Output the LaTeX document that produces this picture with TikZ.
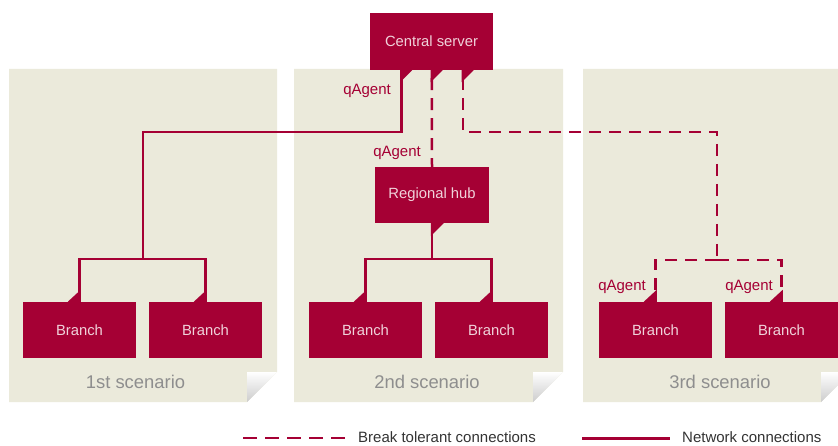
\documentclass[tikz,border=0pt]{standalone}
\usepackage{fontspec}
\setmainfont{Liberation Sans}
\usetikzlibrary{calc}
\definecolor{crim}{HTML}{A50034}
\definecolor{panelbg}{HTML}{EBEADB}
\definecolor{boxtxt}{HTML}{F0D2DA}
\definecolor{scentxt}{HTML}{8E8E8E}
\definecolor{lgdtxt}{HTML}{333333}
\begin{document}
\begin{tikzpicture}[x=1pt,y=-1pt,
  box/.style={fill=crim, draw=none, text=boxtxt, font=\fontsize{14.8}{16}\selectfont, inner sep=0pt, minimum width=113pt, minimum height=56pt},
  net/.style={draw=crim, line width=2.5pt},
  brk/.style={net, dash pattern=on 12pt off 8pt},
  agent/.style={text=crim, font=\fontsize{15}{17}\selectfont, inner sep=0pt, anchor=east},
  scen/.style={text=scentxt, font=\fontsize{18.4}{20}\selectfont, inner sep=0pt},
  lgd/.style={text=lgdtxt, font=\fontsize{15}{17}\selectfont, anchor=base west, inner sep=0pt}]
\useasboundingbox (0,0) rectangle (838,446);
\clip (0,0) rectangle (838,446);
% panels
\foreach \a/\b in {9/277,294/563,583/851}{
  \fill[panelbg] (\a,69) -- (\b,69) -- (\b,372) -- ({\b-30},402) -- (\a,402) -- cycle;
  \shade[shading angle=-45, top color=white, bottom color=black!20] ({\b-30},372) -- (\b,372) -- ({\b-30},402) -- cycle;
}
% nodes
\node[box, minimum width=123pt, minimum height=57pt] (server) at (431.5,41.5) {Central server};
\node[box, minimum width=114pt] (hub) at (432,195) {Regional hub};
\node[box] (b11) at (79.5,330) {Branch};
\node[box] (b12) at (205.5,330) {Branch};
\node[box] (b21) at (365.5,330) {Branch};
\node[box] (b22) at (491.5,330) {Branch};
\node[box] (b31) at (655.5,330) {Branch};
\node[box] (b32) at (781.5,330) {Branch};
% connector points
\coordinate (s1) at ([xshift=31.5pt]server.south west);
\coordinate (s2) at ([xshift=62pt]server.south west);
\coordinate (s3) at ([xshift=93pt]server.south west);
\coordinate (k1) at (142.75,132);
\coordinate (c1) at (142.75,259);
\coordinate (c2) at (432,259);
\coordinate (k3) at (717,132);
\coordinate (c3) at (717,260);
% solid: scenario 1
\draw[net] (s1) |- (k1) -- (c1);
\draw[net] (b11.north) |- (c1) -| (b12.north);
% scenario 2
\draw[brk, dash phase=12pt] (s2) -- (hub.north);
\draw[net] (hub.south) -- (c2);
\draw[net] (b21.north) |- (c2) -| (b22.north);
% scenario 3
\draw[brk, dash phase=12pt] (s3) |- (k3) -- (c3);
\draw[brk] (c3) -| (b31.north);
\draw[brk] (c3) -| (b32.north);
% tabs
\foreach \s in {s1,s2,s3}{
  \fill[crim] (\s) ++(-1.25,0) -- ++(0,12) -- ++(12,-12) -- cycle;
}
\fill[crim] (hub.south) ++(-1.25,0) -- ++(0,13) -- ++(13,-13) -- cycle;
\foreach \b in {b11,b12,b21,b22,b31,b32}{
  \fill[crim] (\b.north) ++(1.25,0) -- ++(0,-12) -- ++(-13,12) -- cycle;
}
% labels
\node[agent] (qa1) at (391,91) {qAgent};
\node[agent] (qa2) at (421,153) {qAgent};
\node[agent] (qa3) at (646,287) {qAgent};
\node[agent] (qa4) at (773,287) {qAgent};
\node[scen] (sc1) at (135.5,382) {1st scenario};
\node[scen] (sc2) at (427,382) {2nd scenario};
\node[scen] (sc3) at (720,382) {3rd scenario};
% legend
\coordinate (la) at (243,438);
\coordinate (lb) at (345,438);
\coordinate (lc) at (582,438.5);
\coordinate (ld) at (670,438.5);
\draw[net, line width=2.8pt, dash pattern=on 14pt off 8pt] (la) -- (lb);
\draw[net, line width=2.8pt] (lc) -- (ld);
\node[lgd] (lt1) at (358,442.5) {Break tolerant connections};
\node[lgd] (lt2) at (682,442.5) {Network connections};
\end{tikzpicture}
\end{document}
